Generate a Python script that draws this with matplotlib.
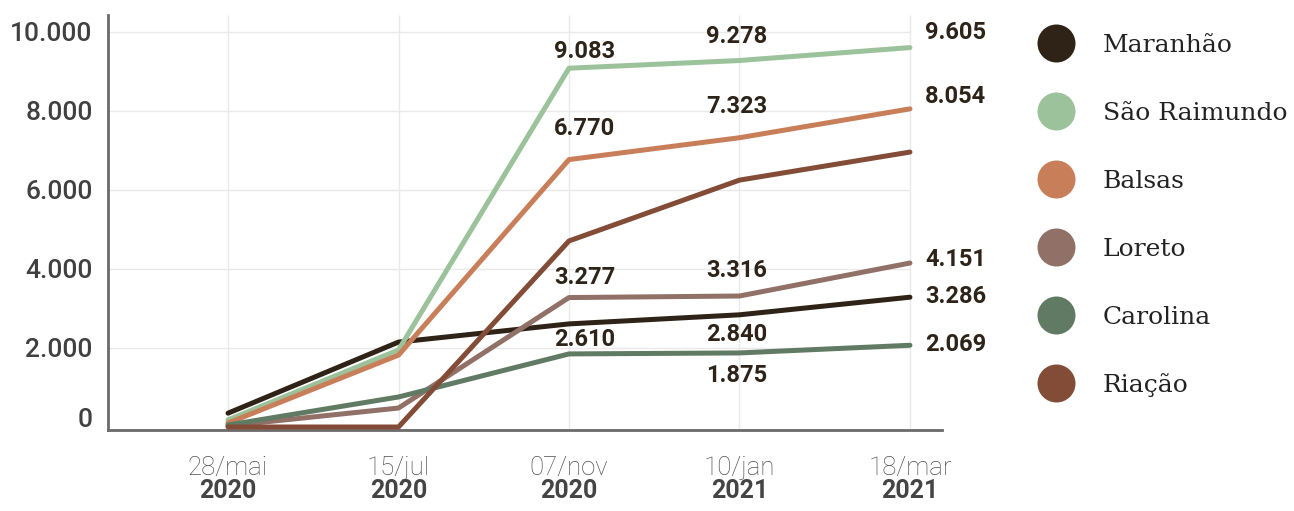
import matplotlib.pyplot as plt
from matplotlib.transforms import ScaledTranslation

# datas da série e valores acumulados por município
dates = ['28/mai', '15/jul', '07/nov', '10/jan', '18/mar']
years = ['2020', '2020', '2020', '2021', '2021']

names = ['Maranhão', 'São Raimundo', 'Balsas', 'Loreto', 'Carolina', 'Riação']
maranhao = [350, 2150, 2610, 2840, 3286]
sao_raimundo = [180, 1950, 9083, 9278, 9605]
balsas = [100, 1820, 6770, 7323, 8054]
loreto = [30, 480, 3277, 3316, 4151]
carolina = [50, 760, 1850, 1875, 2069]
riacao = [0, 0, 4710, 6250, 6960]

colors = ['#2f2216', '#9bc29b', '#c87f59', '#917067', '#617a63', '#834c36']
yticks = [0, 2000, 4000, 6000, 8000, 10000]

series = [maranhao, sao_raimundo, balsas, loreto, carolina, riacao]

# rótulos: (série, índice da data, deslocamento x px, deslocamento y px)
labels = [
    (1, 2, 16, 17), (1, 3, -3, 24), (1, 4, 15, 15),
    (2, 2, 16, 31), (2, 3, -3, 31), (2, 4, 15, 12),
    (3, 2, 16, 20), (3, 3, -3, 26), (3, 4, 15, 4),
    (0, 2, 16, -16), (0, 3, -3, -20), (0, 4, 15, 1),
    (4, 3, -3, -23), (4, 4, 15, 1),
]


def fmt(v):
    return f'{v:,}'.replace(',', '.')


W, H = 1294, 511
fig = plt.figure(figsize=(W / 100, H / 100), dpi=100)
ax = fig.add_axes([108 / W, 1 - 430 / H, (942 - 108) / W, (430 - 15) / H])

x = list(range(len(dates)))
ax.set_xlim(-0.704, 4.188)
ax.set_ylim(-76, 10430)

# grade só até a última data
ax.hlines(yticks[1:], -0.704, 4, color='#e9e9e9', lw=1, zorder=0)
ax.vlines(x, -76, 10430, color='#e9e9e9', lw=1, zorder=0)

for vals, c in zip(series, colors):
    ax.plot(x, vals, color=c, lw=3.6, solid_capstyle='round',
            solid_joinstyle='round', clip_on=False, zorder=3)

px = 0.72
for s, i, dx, dy in labels:
    v = series[s][i]
    ax.annotate(fmt(v), (i, v), xytext=(dx * px, dy * px), textcoords='offset points',
                ha='left' if i == 4 else 'center', va='center',
                family='Roboto', weight='bold', fontsize=17, color='#2d2318', zorder=4)

for sp in ['top', 'right']:
    ax.spines[sp].set_visible(False)
for sp in ['left', 'bottom']:
    ax.spines[sp].set_color('#6a6a6a')
    ax.spines[sp].set_linewidth(2)

ax.set_yticks(yticks)
ax.set_yticklabels([fmt(t) for t in yticks], family='Roboto', weight='medium',
                   fontsize=19, color='#404040')
ax.tick_params(axis='y', length=0, pad=11)
zero = ax.yaxis.get_major_ticks()[0].label1
zero.set_transform(zero.get_transform() + ScaledTranslation(0, 9 / 100, fig.dpi_scale_trans))

ax.set_xticks([])
for i in x:
    ax.annotate(dates[i], (i, 0), xycoords=('data', 'axes fraction'),
                xytext=(0, -38 * px), textcoords='offset points', ha='center', va='center',
                family='Roboto', weight='light', fontsize=18.5, color='#505050')
    ax.annotate(years[i], (i, 0), xycoords=('data', 'axes fraction'),
                xytext=(0, -61 * px), textcoords='offset points', ha='center', va='center',
                family='Roboto', weight='bold', fontsize=18, color='#444444')

# legenda desenhada à mão em coordenadas de pixel
lax = fig.add_axes([0, 0, 1, 1])
lax.set_xlim(0, W)
lax.set_ylim(H, 0)
lax.axis('off')
for k, (n, c) in enumerate(zip(names, colors)):
    yy = 43 + 68 * k
    lax.scatter([1056], [yy], s=(38 * px) ** 2, color=c, linewidths=0)
    lax.text(1103, yy + 9, n, family='DejaVu Serif', fontsize=18, color='#222222',
             va='baseline', ha='left')

fig.savefig('out.png', dpi=100)
